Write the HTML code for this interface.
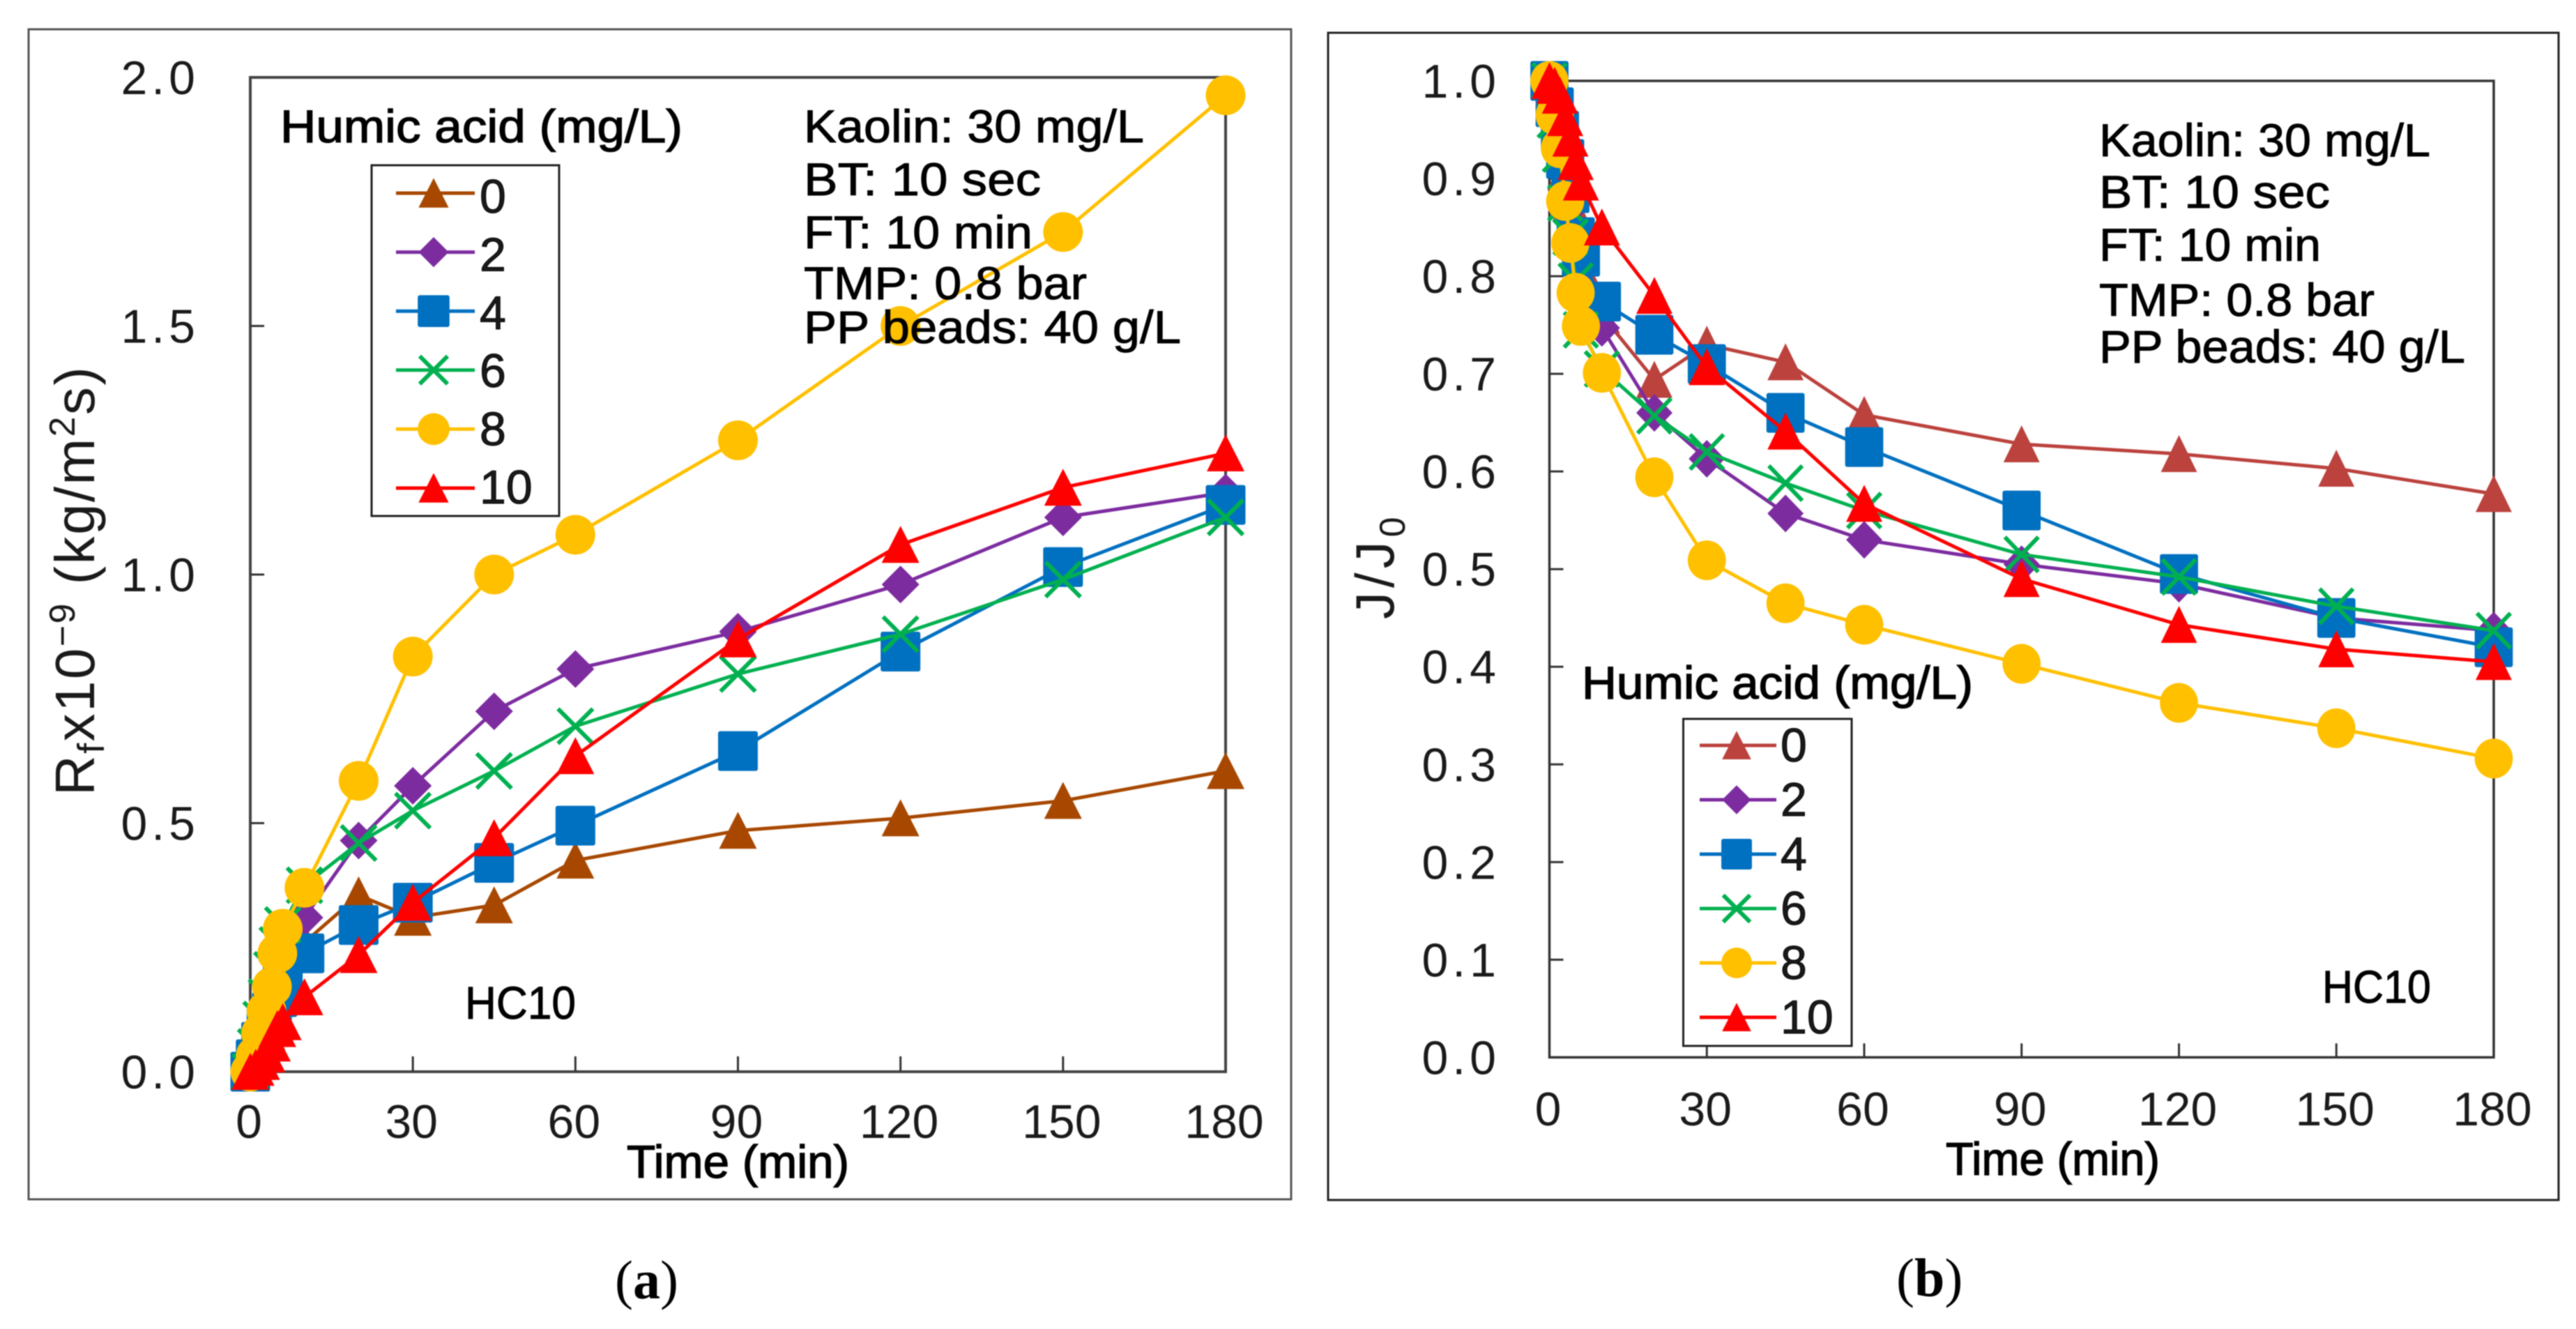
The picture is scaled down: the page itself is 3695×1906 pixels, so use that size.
<!DOCTYPE html>
<html lang="en">
<head>
<meta charset="utf-8">
<title>Rf and J/J0 versus time</title>
<style>
html,body{margin:0;padding:0;background:#fff;}
svg{display:block;filter:blur(0.7px);}
text{font-family:"Liberation Sans",sans-serif;fill:#000;}
.tick{font-size:68px;fill:#1a1a1a;}
.lab{font-size:66px;stroke:#000;stroke-width:1;}
.bold{font-size:66px;stroke:#000;stroke-width:1.4;}
.cap{font-family:"Liberation Serif",serif;font-size:78px;}
.cap tspan{font-weight:700;}
.ytitle{font-size:80px;fill:#1a1a1a;}
</style>
</head>
<body>
<svg id="fig" xmlns="http://www.w3.org/2000/svg" width="3695" height="1906" viewBox="0 0 3695 1906">
  <rect width="3695" height="1906" fill="#fff"/>

  <g>
    <rect x="41" y="42" width="1811" height="1678" fill="none" stroke="#555" stroke-width="3"/>
    <rect x="359" y="111" width="1399" height="1426" fill="none" stroke="#444" stroke-width="4"/>
  </g>
  <g>
    <rect x="1905" y="47" width="1765" height="1674" fill="none" stroke="#222" stroke-width="3"/>
    <rect x="2222.5" y="116" width="1354.5" height="1400.4" fill="none" stroke="#333" stroke-width="3.5"/>
  </g>

  <g id="labels-a">
    <text class="ytitle" transform="translate(135,1141) rotate(-90)" letter-spacing="2.4">R<tspan font-size="54" dy="14">f</tspan><tspan dy="-14">x10</tspan><tspan font-size="52" dy="-28">−9</tspan><tspan dy="28"> (kg/m</tspan><tspan font-size="52" dy="-28">2</tspan><tspan dy="28">s)</tspan></text>
    <text class="bold" x="899" y="1689" textLength="319" lengthAdjust="spacingAndGlyphs">Time (min)</text>
    <text class="bold" x="402" y="204" textLength="577" lengthAdjust="spacingAndGlyphs">Humic acid (mg/L)</text>
    <text class="lab" x="1153" y="204" textLength="488" lengthAdjust="spacingAndGlyphs">Kaolin: 30 mg/L</text>
    <text class="lab" x="1153" y="280" textLength="340" lengthAdjust="spacingAndGlyphs">BT: 10 sec</text>
    <text class="lab" x="1153" y="356" textLength="328" lengthAdjust="spacingAndGlyphs">FT: 10 min</text>
    <text class="lab" x="1153" y="429" textLength="406" lengthAdjust="spacingAndGlyphs">TMP: 0.8 bar</text>
    <text class="lab" x="1153" y="492" textLength="541" lengthAdjust="spacingAndGlyphs">PP beads: 40 g/L</text>
    <text class="lab" x="667" y="1461" textLength="159" lengthAdjust="spacingAndGlyphs">HC10</text>
    <text class="cap" x="882" y="1862">(<tspan>a</tspan>)</text>
  </g>

  <g id="labels-b">
    <text class="ytitle" style="font-size:78px" transform="translate(1999,888) rotate(-90)" letter-spacing="6">J/J<tspan font-size="52" dy="16">0</tspan></text>
    <text class="bold" x="2791" y="1685" textLength="307" lengthAdjust="spacingAndGlyphs">Time (min)</text>
    <text class="bold" x="2269" y="1002" textLength="561" lengthAdjust="spacingAndGlyphs">Humic acid (mg/L)</text>
    <text class="lab" x="3011" y="224" textLength="475" lengthAdjust="spacingAndGlyphs">Kaolin: 30 mg/L</text>
    <text class="lab" x="3011" y="298" textLength="331" lengthAdjust="spacingAndGlyphs">BT: 10 sec</text>
    <text class="lab" x="3011" y="374" textLength="318" lengthAdjust="spacingAndGlyphs">FT: 10 min</text>
    <text class="lab" x="3011" y="453" textLength="395" lengthAdjust="spacingAndGlyphs">TMP: 0.8 bar</text>
    <text class="lab" x="3011" y="520" textLength="525" lengthAdjust="spacingAndGlyphs">PP beads: 40 g/L</text>
    <text class="lab" x="3331" y="1438" textLength="156" lengthAdjust="spacingAndGlyphs">HC10</text>
    <text class="cap" x="2720" y="1859">(<tspan>b</tspan>)</text>
  </g>
</svg>

<script>
// Shared axis data
const timeMinutes = [0,1,2,3,4,5,6,10,20,30,45,60,90,120,150,180];
const xTickValues = [0,30,60,90,120,150,180];
const xTickLabels = ['0','30','60','90','120','150','180'];
const legendLabels = ['0','2','4','6','8','10'];
const seriesIds = ['ha0','ha2','ha4','ha6','ha8','ha10'];

// Panel (a): Rf x 10^-9
const yTicksA = [0,0.5,1.0,1.5,2.0];
const yTickLabelsA = ['0.0','0.5','1.0','1.5','2.0'];
const rfHa0  = [0,0.02,0.05,0.08,0.12,0.16,0.19,0.26,0.355,0.31,0.335,0.425,0.485,0.51,0.545,0.605];
const rfHa2  = [0,0.03,0.06,0.10,0.14,0.19,0.22,0.31,0.465,0.575,0.725,0.81,0.885,0.98,1.115,1.165];
const rfHa4  = [0,0.025,0.06,0.09,0.12,0.15,0.185,0.238,0.295,0.34,0.42,0.495,0.645,0.845,1.015,1.14];
const rfHa6  = [0,0.05,0.105,0.15,0.205,0.255,0.295,0.375,0.46,0.525,0.605,0.695,0.80,0.88,0.99,1.115];
const rfHa8  = [0,0.032,0.077,0.122,0.171,0.238,0.2875,0.37,0.585,0.835,1.0,1.08,1.27,1.5,1.689,1.964];
const rfHa10 = [0,0.008,0.02,0.035,0.057,0.086,0.10,0.15,0.235,0.34,0.47,0.635,0.87,1.06,1.175,1.244];

// Panel (b): J/J0
const yTicksB = [0,0.1,0.2,0.3,0.4,0.5,0.6,0.7,0.8,0.9,1.0];
const yTickLabelsB = ['0.0','0.1','0.2','0.3','0.4','0.5','0.6','0.7','0.8','0.9','1.0'];
const fluxHa0  = [1,0.975,0.952,0.907,0.875,0.84,0.81,0.76,0.694,0.73,0.712,0.658,0.628,0.618,0.603,0.577];
const fluxHa2  = [1,0.975,0.95,0.91,0.87,0.83,0.79,0.747,0.66,0.613,0.557,0.53,0.505,0.485,0.45,0.437];
const fluxHa4  = [1,0.973,0.949,0.92,0.885,0.84,0.82,0.774,0.74,0.71,0.66,0.625,0.56,0.495,0.45,0.42];
const fluxHa6  = [1,0.96,0.925,0.875,0.84,0.795,0.745,0.705,0.657,0.62,0.588,0.56,0.515,0.492,0.462,0.437];
const fluxHa8  = [1,0.965,0.931,0.877,0.834,0.783,0.749,0.701,0.594,0.509,0.465,0.443,0.403,0.363,0.337,0.306];
const fluxHa10 = [1,0.995,0.985,0.962,0.941,0.917,0.896,0.85,0.78,0.707,0.641,0.567,0.49,0.443,0.418,0.405];

const valuesA = [rfHa0,rfHa2,rfHa4,rfHa6,rfHa8,rfHa10];
const valuesB = [fluxHa0,fluxHa2,fluxHa4,fluxHa6,fluxHa8,fluxHa10];
const shapes = ['tri','dia','sq','x','circ','tri'];
const coloursA = ['#A84800','#7D2CA0','#0070C0','#00B050','#FFC000','#FF0000'];
const coloursB = ['#BB423D','#7D2CA0','#0070C0','#00B050','#FFC000','#FF0000'];

// Axis functions
const xA = t => 359 + t * (1399 / 180);
const yA = v => 1537 - v * 713;
const xB = t => 2222.5 + t * (1354.5 / 180);
const yB = v => 1516.4 - v * 1400.4;

const svg = document.getElementById('fig');
const NS = 'http://www.w3.org/2000/svg';

function mk(tag, attrs, parent) {
  const el = document.createElementNS(NS, tag);
  for (const k in attrs) el.setAttribute(k, attrs[k]);
  parent.appendChild(el);
  return el;
}

function marker(shape, x, y, sx, sy, colour, parent) {
  let el;
  if (shape === 'tri') {
    el = mk('polygon', {points:[x,y-27*sy, x+27*sx,y+26*sy, x-27*sx,y+26*sy].join(' '), fill:colour, 'stroke-linejoin':'round'}, parent);
  } else if (shape === 'dia') {
    el = mk('polygon', {points:[x,y-27*sy, x+27*sx,y, x,y+27*sy, x-27*sx,y].join(' '), fill:colour}, parent);
  } else if (shape === 'sq') {
    el = mk('rect', {x:x-28.5*sx, y:y-28.5*sy, width:57*sx, height:57*sy, rx:3, fill:colour}, parent);
  } else if (shape === 'circ') {
    el = mk('ellipse', {cx:x, cy:y, rx:28.5*sx, ry:28.5*sy, fill:colour}, parent);
  } else {
    const hx = 25*sx, hy = 25*sy;
    el = mk('path', {d:'M'+(x-hx)+' '+(y-hy)+'L'+(x+hx)+' '+(y+hy)+'M'+(x+hx)+' '+(y-hy)+'L'+(x-hx)+' '+(y+hy), fill:'none', stroke:colour, 'stroke-width':6}, parent);
  }
  return el;
}

function drawPanel(id, xf, yf, yTicks, yLabels, values, colours, o) {
  const axes = mk('g', {}, svg);
  
  
  xTickValues.forEach((t, i) => {
    if (t !== 0 && t !== 180) {
      const tk = mk('line', {x1:xf(t), x2:xf(t), y1:yf(0), y2:yf(0)-o.tickLen, stroke:'#333', 'stroke-width':3}, axes);
      
      
    }
    const lb = mk('text', {class:'tick', x:xf(t)-2, y:o.xLabelY, 'text-anchor':'middle'}, axes);
    lb.textContent = xTickLabels[i];
    
    
  });
  yTicks.forEach((v, i) => {
    if (i !== 0 && i !== yTicks.length - 1) {
      const tk = mk('line', {x1:xf(0), x2:xf(0)+20, y1:yf(v), y2:yf(v), stroke:'#333', 'stroke-width':3}, axes);
      
      
    }
    const lb = mk('text', {class:'tick', x:o.yLabelX, y:yf(v)+24, 'text-anchor':'end', 'letter-spacing':6}, axes);
    lb.textContent = yLabels[i];
    
    
  });

  const lg = mk('g', {}, svg);
  
  
  const box = mk('rect', {x:o.lgX, y:o.lgY, width:o.lgW, height:o.lgH, fill:'#fff', stroke:'#222', 'stroke-width':3}, lg);
  
  

  values.forEach((vals, s) => {
    const g = mk('g', {}, svg);
    
    
    const pts = timeMinutes.map((t, i) => xf(t) + ',' + yf(vals[i])).join(' ');
    const ln = mk('polyline', {points:pts, fill:'none', stroke:colours[s], 'stroke-width':5, 'stroke-linejoin':'round'}, g);
    
    
    timeMinutes.forEach((t, i) => {
      const m = marker(shapes[s], xf(t), yf(vals[i]), o.sx, o.sy, colours[s], g);
      
      
    });

    const ly = o.lineY0 + o.lineStep * s;
    const ll = mk('line', {x1:o.keyX1, x2:o.keyX2, y1:ly, y2:ly, stroke:colours[s], 'stroke-width':5}, lg);
    
    
    const lm = marker(shapes[s], o.keyMid, ly, o.keyS, o.keyS, colours[s], lg);
    
    
    const lt = mk('text', {class:'tick', x:o.keyTextX, y:o.textY0 + o.textStep * s, fill:'#000', stroke:'#000', 'stroke-width':1}, lg);
    lt.textContent = legendLabels[s];
    
    
  });
}

drawPanel('panel-a', xA, yA, yTicksA, yTickLabelsA, valuesA, coloursA, {
  tickLen:22, xLabelY:1632, yLabelX:286, sx:1, sy:1,
  lgX:533, lgY:237, lgW:269, lgH:503,
  lineY0:277, lineStep:84.6, textY0:305, textStep:83.4,
  keyX1:568, keyX2:681, keyMid:622, keyS:0.8, keyTextX:688
});
drawPanel('panel-b', xB, yB, yTicksB, yTickLabelsB, valuesB, coloursB, {
  tickLen:20, xLabelY:1614, yLabelX:2152, sx:0.96, sy:1,
  lgX:2414.5, lgY:1031, lgW:241.5, lgH:469,
  lineY0:1069, lineStep:78, textY0:1092, textStep:78,
  keyX1:2438, keyX2:2548, keyMid:2491, keyS:0.77, keyTextX:2554
});

// Annotation text sits on top of the data marks
svg.appendChild(document.getElementById('labels-a'));
svg.appendChild(document.getElementById('labels-b'));
</script>
</body>
</html>
